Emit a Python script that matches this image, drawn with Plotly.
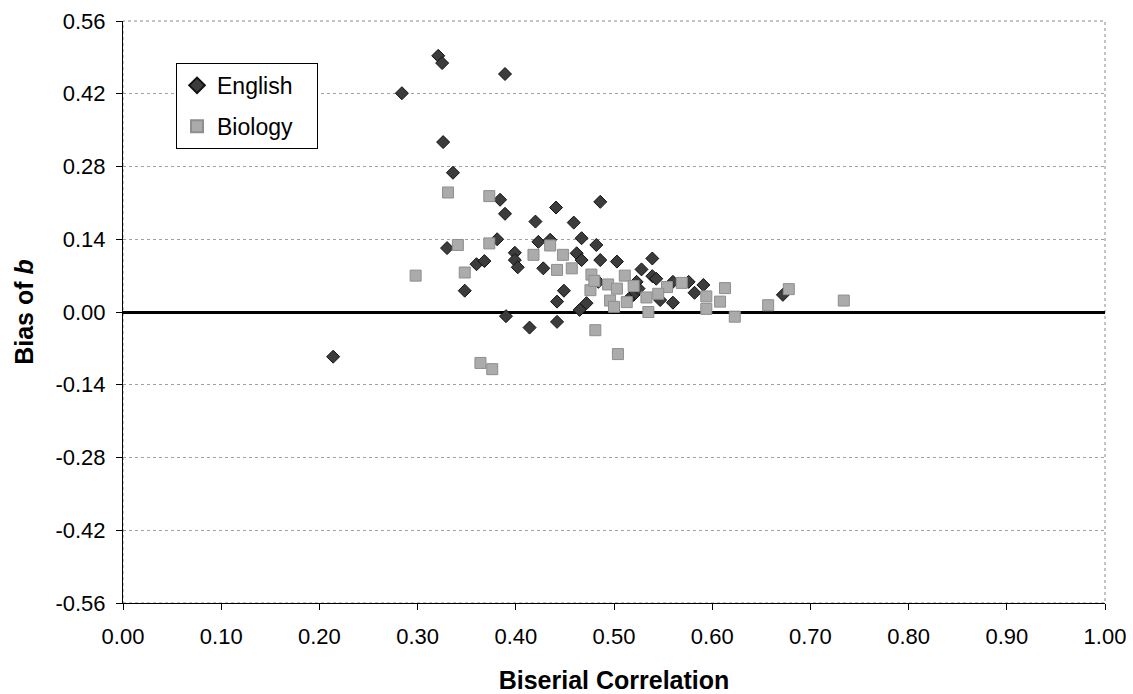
import plotly.graph_objects as go

# ---- data ----
english_x = [0.214, 0.284, 0.321, 0.325, 0.389, 0.326, 0.336, 0.384, 0.389, 0.381,
             0.330, 0.399, 0.399, 0.402, 0.360, 0.368, 0.348, 0.390, 0.441, 0.486,
             0.420, 0.459, 0.467, 0.482, 0.423, 0.435, 0.428, 0.462, 0.467, 0.486,
             0.503, 0.539, 0.528, 0.539, 0.523, 0.484, 0.449, 0.442, 0.472, 0.465,
             0.520, 0.560, 0.576, 0.591, 0.582, 0.560, 0.672, 0.547, 0.414, 0.442,
             0.543, 0.525, 0.515]
english_y = [-0.086, 0.421, 0.493, 0.479, 0.458, 0.327, 0.268, 0.216, 0.189, 0.140,
             0.123, 0.114, 0.100, 0.086, 0.092, 0.098, 0.041, -0.008, 0.201, 0.212,
             0.174, 0.172, 0.142, 0.129, 0.135, 0.139, 0.084, 0.113, 0.100, 0.100,
             0.097, 0.103, 0.082, 0.069, 0.058, 0.058, 0.041, 0.020, 0.017, 0.004,
             0.033, 0.058, 0.058, 0.052, 0.037, 0.018, 0.033, 0.023, -0.030, -0.019,
             0.064, 0.045, 0.025]

biology_x = [0.298, 0.331, 0.373, 0.373, 0.341, 0.348, 0.364, 0.376, 0.418, 0.435,
             0.448, 0.442, 0.457, 0.477, 0.476, 0.494, 0.511, 0.496, 0.513, 0.533,
             0.554, 0.569, 0.535, 0.594, 0.594, 0.608, 0.613, 0.623, 0.657, 0.678,
             0.734, 0.481, 0.504, 0.503, 0.520, 0.545, 0.500, 0.480]
biology_y = [0.070, 0.230, 0.223, 0.132, 0.129, 0.076, -0.098, -0.110, 0.110, 0.128,
             0.110, 0.081, 0.084, 0.072, 0.042, 0.053, 0.070, 0.022, 0.019, 0.028,
             0.048, 0.056, 0.000, 0.030, 0.006, 0.020, 0.046, -0.009, 0.013, 0.044,
             0.022, -0.035, -0.081, 0.045, 0.050, 0.035, 0.010, 0.060]

x_ticks = [0.0, 0.1, 0.2, 0.3, 0.4, 0.5, 0.6, 0.7, 0.8, 0.9, 1.0]
x_tick_labels = ["0.00", "0.10", "0.20", "0.30", "0.40", "0.50", "0.60", "0.70", "0.80", "0.90", "1.00"]
y_ticks = [-0.56, -0.42, -0.28, -0.14, 0.0, 0.14, 0.28, 0.42, 0.56]
y_tick_labels = ["-0.56", "-0.42", "-0.28", "-0.14", "0.00", "0.14", "0.28", "0.42", "0.56"]

FONT = "Liberation Sans, Arial, sans-serif"
PAD = "\u00a0\u00a0\u00a0"

fig = go.Figure()
fig.add_trace(go.Scatter(
    x=english_x, y=english_y, mode="markers", name="English" + PAD, legendgroup="e",
    marker=dict(symbol="diamond", size=10, color="#3c3c3c",
                line=dict(color="#111111", width=1)),
))
fig.add_trace(go.Scatter(
    x=biology_x, y=biology_y, mode="markers", name="Biology" + PAD, legendgroup="b",
    marker=dict(symbol="square", size=11, color="#ababab",
                line=dict(color="#8e8e8e", width=1)),
))

# dotted plot-area frame (top / right)
fig.add_shape(type="rect", xref="paper", yref="paper", x0=0, y0=0, x1=1, y1=1,
              line=dict(color="#888888", width=1, dash="dot"), layer="below")

fig.update_layout(
    width=1133, height=694,
    margin=dict(l=123, r=28, t=21, b=91, autoexpand=False),
    paper_bgcolor="white", plot_bgcolor="white",
    font=dict(family=FONT, size=22, color="black"),
    showlegend=True,
    legend=dict(
        x=0.054, y=0.928, xanchor="left", yanchor="top",
        bgcolor="white", bordercolor="black", borderwidth=1,
        font=dict(family=FONT, size=23, color="black"),
        tracegroupgap=8, itemsizing="constant",
    ),
    xaxis=dict(
        range=[0, 1], tickvals=x_ticks, ticktext=x_tick_labels,
        showgrid=False, zeroline=False, automargin=False,
        showline=True, linecolor="black", linewidth=1,
        ticks="outside", ticklen=6, tickcolor="black",
        tickfont=dict(family=FONT, size=22), ticklabelstandoff=8,
        title=dict(text="<b>Biserial Correlation</b>", font=dict(family=FONT, size=25), standoff=26),
    ),
    yaxis=dict(
        range=[-0.56, 0.56], tickvals=y_ticks, ticktext=y_tick_labels,
        showgrid=True, gridcolor="#a0a0a0", gridwidth=1, griddash="dot",
        zeroline=True, zerolinecolor="black", zerolinewidth=2.5, automargin=False,
        showline=True, linecolor="black", linewidth=1,
        ticks="outside", ticklen=6, tickcolor="black",
        tickfont=dict(family=FONT, size=22), ticklabelstandoff=6,
        title=dict(text="<b>Bias of <i>b</i></b>", font=dict(family=FONT, size=25), standoff=14),
    ),
)

fig.write_html("out.html")
